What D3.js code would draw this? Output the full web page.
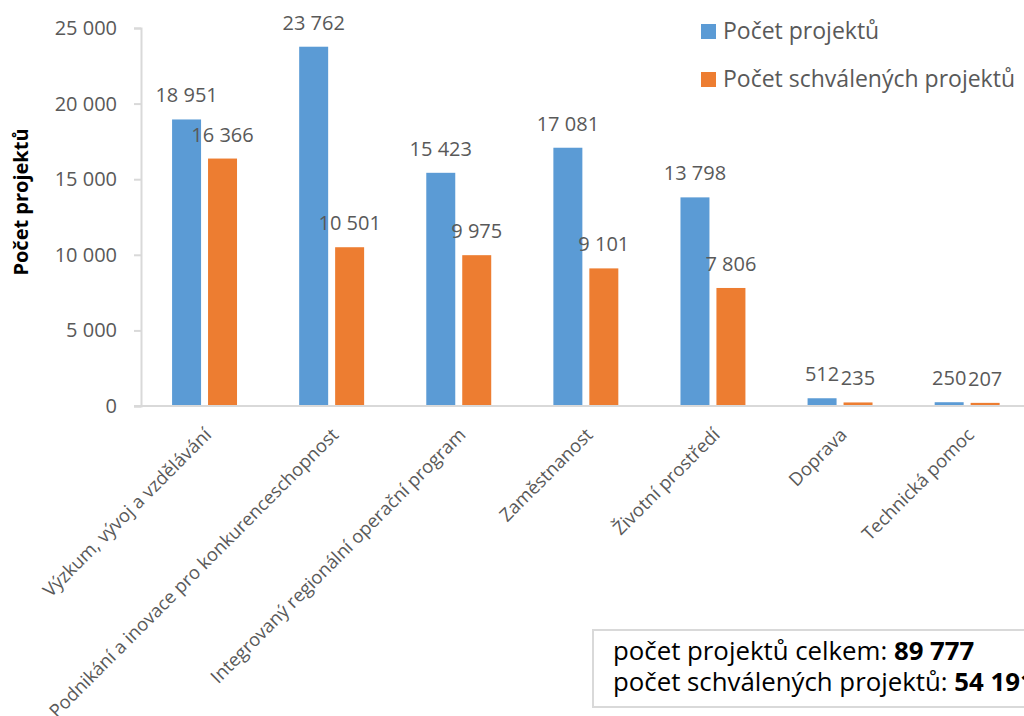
<!DOCTYPE html>
<html>
<head>
<meta charset="utf-8">
<script src="https://cdn.jsdelivr.net/npm/d3@7"></script>
<style>
  body { margin: 0; background: #fff; }
  svg { display: block; }
  text { font-family: "Open Sans", sans-serif; fill: #595959; }
</style>
</head>
<body>
<div id="chart"></div>
<script>
var categories = ["Výzkum, vývoj a vzdělávání", "Podnikání a inovace pro konkurenceschopnost",
  "Integrovaný regionální operační program", "Zaměstnanost", "Životní prostředí",
  "Doprava", "Technická pomoc"];
var seriesNames = ["Počet projektů", "Počet schválených projektů"];
var projekty = [18951, 23762, 15423, 17081, 13798, 512, 250];
var schvalene = [16366, 10501, 9975, 9101, 7806, 235, 207];
var yTicks = [0, 5000, 10000, 15000, 20000, 25000];
var colors = ["#5b9bd5", "#ed7d31"];

var width = 1024, height = 716;
var plotLeft = 141, plotTop = 28, plotBottom = 406;
var step = 127.1;

var svg = d3.select("#chart").append("svg")
    .attr("width", width).attr("height", height);

var fmt = function (v) { return d3.format(",")(v).replace(/,/g, " "); };

var y = d3.scaleLinear().domain([0, 25000]).range([plotBottom, plotTop]);
var x0 = d3.scaleBand().domain(categories)
    .range([plotLeft, plotLeft + step * categories.length])
    .paddingInner(0.489).paddingOuter(0.2445);
var x1 = d3.scaleBand().domain(seriesNames)
    .range([0, x0.bandwidth()]).paddingInner(0.194);

// y axis
var yAxis = svg.append("g")
    .attr("transform", "translate(" + plotLeft + ",0)")
    .call(d3.axisLeft(y).tickValues(yTicks).tickSize(7).tickPadding(17).tickFormat(fmt));
yAxis.select(".domain").attr("stroke", "#d9d9d9").attr("stroke-width", 2);
yAxis.selectAll(".tick line").attr("stroke", "#d9d9d9").attr("stroke-width", 2);
yAxis.selectAll(".tick text").style("font-size", "20px").attr("fill", "#595959")
    .style("font-family", "'Open Sans', sans-serif");

// baseline
svg.append("line")
    .attr("x1", plotLeft - 7).attr("x2", width)
    .attr("y1", y(0)).attr("y2", y(0))
    .attr("stroke", "#d9d9d9").attr("stroke-width", 2);

var rows = categories.map(function (c, i) {
  return { cat: c, vals: [projekty[i], schvalene[i]] };
});

var groups = svg.selectAll("g.grp").data(rows).enter().append("g")
    .attr("class", "grp")
    .attr("transform", function (d) { return "translate(" + x0(d.cat) + ",0)"; });

groups.selectAll("rect").data(function (d) {
  return d.vals.map(function (v, k) { return { s: seriesNames[k], v: v, k: k }; });
}).enter().append("rect")
    .attr("x", function (d) { return x1(d.s); })
    .attr("width", x1.bandwidth())
    .attr("y", function (d) { return y(d.v); })
    .attr("height", function (d) { return y(0) - y(d.v) - 1; })
    .attr("fill", function (d) { return colors[d.k]; });

groups.selectAll("text.val").data(function (d) {
  return d.vals.map(function (v, k) { return { s: seriesNames[k], v: v }; });
}).enter().append("text")
    .attr("class", "val")
    .attr("x", function (d) { return x1(d.s) + x1.bandwidth() / 2; })
    .attr("y", function (d) { return y(d.v) - 17; })
    .attr("text-anchor", "middle")
    .style("font-size", "20px")
    .text(function (d) { return fmt(d.v); });

// category labels
svg.selectAll("text.cat").data(categories).enter().append("text")
    .attr("class", "cat")
    .attr("text-anchor", "end")
    .attr("transform", function (d) {
      return "translate(" + (x0(d) + x0.bandwidth() / 2 + 8) + ",436) rotate(-45)";
    })
    .style("font-size", "18.4px")
    .text(function (d) { return d; });

// y title
svg.append("text")
    .attr("transform", "translate(28,202) rotate(-90)")
    .attr("text-anchor", "middle")
    .style("font-size", "20px").style("font-weight", "bold")
    .style("fill", "#000")
    .text("Počet projektů");

// legend
var legend = svg.selectAll("g.leg").data(seriesNames).enter().append("g")
    .attr("class", "leg")
    .attr("transform", function (d, i) { return "translate(701," + (24 + i * 48) + ")"; });
legend.append("rect").attr("width", 15).attr("height", 15)
    .attr("fill", function (d, i) { return colors[i]; });
legend.append("text").attr("x", 22).attr("y", 15)
    .style("font-size", "23px")
    .text(function (d) { return d; });

// totals box
var box = svg.append("g");
box.append("rect").attr("x", 593).attr("y", 630).attr("width", 460).attr("height", 77)
    .attr("fill", "#fff").attr("stroke", "#d9d9d9").attr("stroke-width", 2);
var t1 = box.append("text").attr("x", 613).attr("y", 660).style("font-size", "25.8px").style("fill", "#000");
t1.append("tspan").text("počet projektů celkem: ");
t1.append("tspan").style("font-weight", "bold").text(fmt(d3.sum(projekty)));
var t2 = box.append("text").attr("x", 613).attr("y", 691).style("font-size", "25.8px").style("fill", "#000");
t2.append("tspan").text("počet schválených projektů: ");
t2.append("tspan").style("font-weight", "bold").text(fmt(d3.sum(schvalene)));
</script>
</body>
</html>
